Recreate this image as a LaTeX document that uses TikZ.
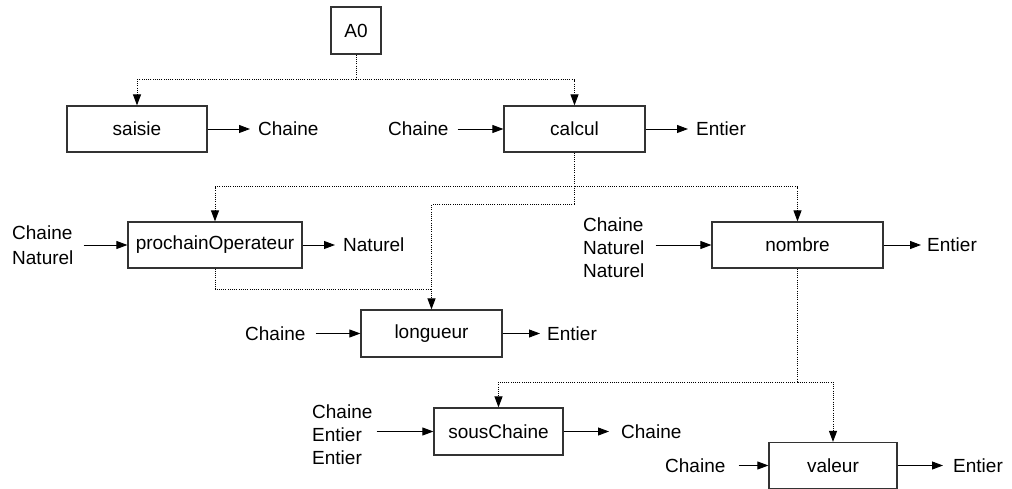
\documentclass[tikz,border=0pt]{standalone}
\usepackage{fontspec}
\setmainfont{Liberation Sans}
\usetikzlibrary{arrows.meta}
\begin{document}
\begin{tikzpicture}[x=1pt,y=-1pt,
  box/.style={draw=black!80, line width=1.2pt, rectangle, inner sep=0pt, minimum height=46pt, font=\fontsize{19}{23}\selectfont},
  lbl/.style={inner sep=0pt, anchor=west, align=left, font=\fontsize{19}{23}\selectfont},
  arr/.style={-{Triangle[length=11pt,width=8pt]}, line width=0.9pt},
  dot/.style={line width=1pt, dash pattern=on 1pt off 1.2pt},
  darr/.style={dot, -{Triangle[length=11pt,width=8pt]}}]
\useasboundingbox (0,0) rectangle (1012,489);

% boxes
\node[box, minimum width=50pt, minimum height=47pt] (A0) at (356,30.5) {A0};
\node[box, minimum width=140pt] (saisie) at (137,129) {saisie};
\node[box, minimum width=141pt] (calcul) at (574.5,129) {calcul};
\node[box, minimum width=174pt] (proch) at (215,245) {prochainOperateur};
\node[box, minimum width=171pt] (nombre) at (797.5,245) {nombre};
\node[box, minimum width=141pt, minimum height=47pt] (longueur) at (431.5,333.5) {longueur};
\node[box, minimum width=129pt, minimum height=47pt] (sous) at (498.5,431.5) {sousChaine};
\node[box, minimum width=128pt] (valeur) at (833,465.5) {valeur};

% labels
\node[lbl] (saisieOut) at (258,129) {Chaine};
\node[lbl] (calculIn) at (388,129) {Chaine};
\node[lbl] (calculOut) at (696,129) {Entier};
\node[lbl] (prochIn) at (12,245.5) {Chaine\\[2pt]Naturel};
\node[lbl] (prochOut) at (343,245) {Naturel};
\node[lbl] (longIn) at (245,333.5) {Chaine};
\node[lbl] (longOut) at (547,333.5) {Entier};
\node[lbl] (nombreIn) at (583,247.5) {Chaine\\Naturel\\Naturel};
\node[lbl] (nombreOut) at (927,245) {Entier};
\node[lbl] (sousIn) at (312,435) {Chaine\\Entier\\Entier};
\node[lbl] (sousOut) at (621,432) {Chaine};
\node[lbl] (valIn) at (665,466) {Chaine};
\node[lbl] (valOut) at (953,466) {Entier};

% data arrows
\draw[arr, shorten >=8pt] (saisie.east) -- (saisieOut.west |- saisie.east);
\draw[arr, shorten <=9pt] (calculIn.east |- calcul.west) -- (calcul.west);
\draw[arr, shorten >=8pt] (calcul.east) -- (calculOut.west |- calcul.east);
\draw[arr, shorten <=10pt] (prochIn.east |- proch.west) -- (proch.west);
\draw[arr, shorten >=8pt] (proch.east) -- (prochOut.west |- proch.east);
\draw[arr, shorten <=10pt] (longIn.east |- longueur.west) -- (longueur.west);
\draw[arr, shorten >=7pt] (longueur.east) -- (longOut.west |- longueur.east);
\draw[arr, shorten <=11pt] (nombreIn.east |- nombre.west) -- (nombre.west);
\draw[arr, shorten >=6pt] (nombre.east) -- (nombreOut.west |- nombre.east);
\draw[arr, shorten <=4pt] (sousIn.east |- sous.west) -- (sous.west);
\draw[arr, shorten >=12pt] (sous.east) -- (sousOut.west |- sous.east);
\draw[arr, shorten <=13pt] (valIn.east |- valeur.west) -- (valeur.west);
\draw[arr, shorten >=10pt] (valeur.east) -- (valOut.west |- valeur.east);

% hierarchy (dotted)
\coordinate (j0) at (356,80);
\draw[dot] (A0.south) -- (j0);
\draw[darr] (j0) -| (saisie.north);
\draw[darr] (j0) -| (calcul.north);

\coordinate (j1) at (574.5,187);
\coordinate (j2) at (574.5,205);
\coordinate (jl) at (431.5,289);
\draw[dot] (calcul.south) -- (j1) -- (j2);
\draw[darr] (j1) -| (proch.north);
\draw[darr] (j1) -| (nombre.north);
\draw[darr] (j2) -| (longueur.north);
\draw[dot] (proch.south) |- (jl);

\coordinate (j3) at (797.5,382);
\draw[dot] (nombre.south) -- (j3);
\draw[darr] (j3) -| (sous.north);
\draw[darr] (j3) -| (valeur.north);
\end{tikzpicture}
\end{document}
